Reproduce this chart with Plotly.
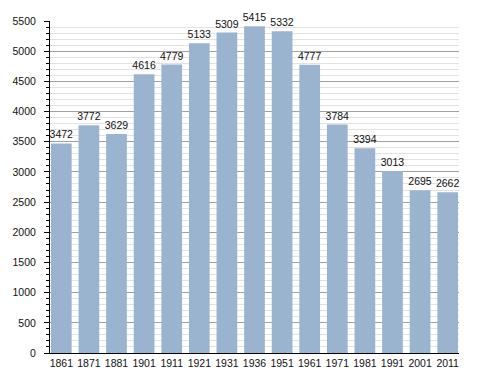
import plotly.graph_objects as go

years = ["1861", "1871", "1881", "1901", "1911", "1921", "1931", "1936",
         "1951", "1961", "1971", "1981", "1991", "2001", "2011"]
population = [3472, 3772, 3629, 4616, 4779, 5133, 5309, 5415,
              5332, 4777, 3784, 3394, 3013, 2695, 2662]

font = dict(family="Liberation Sans, Arial, sans-serif", size=10.5, color="#111111")

fig = go.Figure(go.Bar(
    x=years, y=population,
    marker=dict(color="#9ab3cf", line=dict(width=0)),
    width=0.75,
    text=[str(v) for v in population],
    textposition="outside",
    constraintext="none",
    textfont=font,
    cliponaxis=False,
))

# The page body has an 8px default margin; compensate so the plot lands where the reference has it.
fig.update_layout(
    width=480, height=365,
    margin=dict(l=42, r=29, t=13, b=20, autoexpand=False),
    paper_bgcolor="white", plot_bgcolor="white",
    font=font,
    showlegend=False,
    bargap=0.25,
)
fig.update_xaxes(
    type="category",
    range=[-0.41, 14.41],
    showgrid=False,
    showline=True, linecolor="black", linewidth=1,
    ticks="", tickfont=font,
    automargin=False,
    fixedrange=True,
)
fig.update_yaxes(
    range=[0, 5500],
    dtick=500, tick0=0,
    showgrid=True, gridcolor="#a0a0a0", gridwidth=1,
    showline=True, linecolor="black", linewidth=1,
    ticks="outside", ticklen=5, tickcolor="black", tickwidth=1,
    ticklabelstandoff=6,
    tickfont=font,
    zeroline=False,
    automargin=False,
    minor=dict(dtick=100, showgrid=True, gridcolor="#e2e2e2",
               ticks="outside", ticklen=3, tickcolor="black"),
    fixedrange=True,
)

fig.write_html("out.html")
